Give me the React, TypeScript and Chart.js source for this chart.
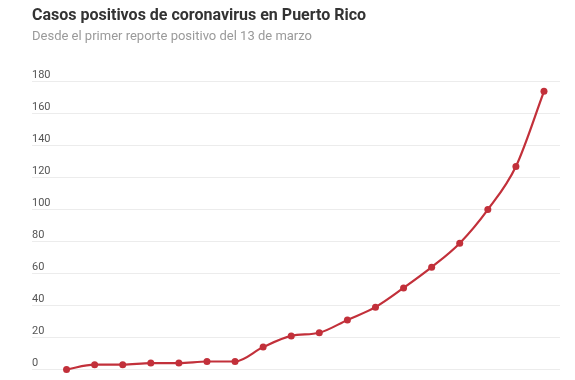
import React, { useEffect, useRef } from "react";
import { Chart, registerables } from "chart.js";

Chart.register(...registerables);

const TITLE = "Casos positivos de coronavirus en Puerto Rico";
const SUBTITLE = "Desde el primer reporte positivo del 13 de marzo";

const dates: string[] = [
  "13 mar", "14 mar", "15 mar", "16 mar", "17 mar", "18 mar", "19 mar", "20 mar", "21 mar",
  "22 mar", "23 mar", "24 mar", "25 mar", "26 mar", "27 mar", "28 mar", "29 mar", "30 mar",
];
const cases: number[] = [0, 3, 3, 4, 4, 5, 5, 14, 21, 23, 31, 39, 51, 64, 79, 100, 127, 174];
const yTicks: number[] = [0, 20, 40, 60, 80, 100, 120, 140, 160, 180];

export default function App() {
  const ref = useRef<HTMLCanvasElement | null>(null);

  useEffect(() => {
    if (!ref.current) return;
    const chart = new Chart(ref.current, {
      type: "line",
      data: {
        labels: dates,
        datasets: [
          {
            label: "Casos",
            data: cases.map((v, i) => ({ x: i, y: v })),
            borderColor: "#c2303a",
            backgroundColor: "#c2303a",
            borderWidth: 2.2,
            pointRadius: 3.5,
            pointBorderWidth: 0,
            pointBackgroundColor: "#c2303a",
            cubicInterpolationMode: "monotone",
            clip: false,
          },
        ],
      },
      options: {
        animation: false,
        responsive: true,
        maintainAspectRatio: false,
        layout: { padding: { left: 24, right: 7, top: 0, bottom: 10.5 } },
        plugins: {
          legend: { display: false },
          tooltip: { enabled: false },
          title: {
            display: true,
            text: TITLE,
            align: "start",
            color: "#333333",
            font: { family: "Roboto", size: 16, weight: "bold", lineHeight: 1.0 },
            padding: { top: 0, bottom: 4.9 },
          },
          subtitle: {
            display: true,
            text: SUBTITLE,
            align: "start",
            color: "#9a9a9a",
            font: { family: "Roboto", size: 13, lineHeight: 1.2 },
            padding: { top: 0, bottom: 37.2 },
          },
        },
        scales: {
          x: {
            type: "linear",
            display: false,
            min: -1.23,
            max: 17.57,
          },
          y: {
            min: 0,
            max: 180,
            afterBuildTicks: (axis: any) => {
              axis.ticks = yTicks.map((v) => ({ value: v }));
            },
            border: { display: false },
            grid: { color: "#ececec", lineWidth: 1, drawTicks: false },
            ticks: {
              mirror: true,
              padding: 0,
              labelOffset: -6,
              color: "#555555",
              font: { family: "Roboto", size: 11 },
            },
          },
        },
      },
    });
    return () => chart.destroy();
  }, []);

  return (
    <div style={{ width: 559, height: 372, position: "relative" }}>
      <canvas ref={ref} />
    </div>
  );
}
